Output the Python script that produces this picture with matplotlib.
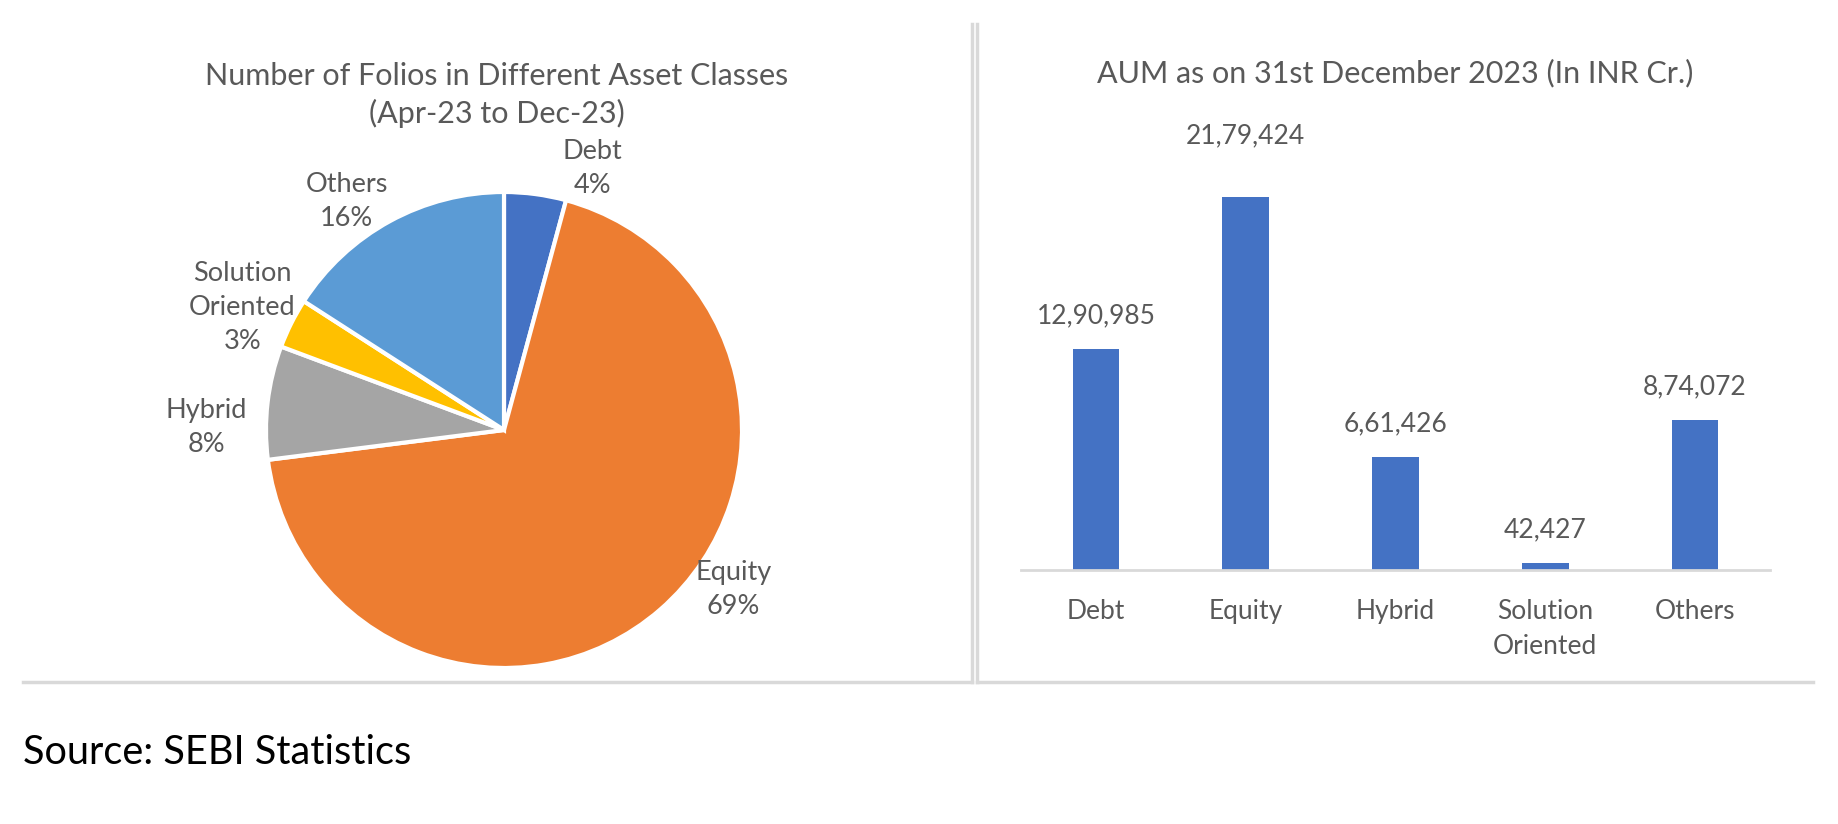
import numpy as np
import matplotlib.pyplot as plt
from matplotlib.lines import Line2D

plt.rcParams['font.family'] = ['Lato', 'DejaVu Sans']

# pie data (share of folios, %)
pie_labels = ['Debt', 'Equity', 'Hybrid', 'Solution\nOriented', 'Others']
pie_values = [4.2, 68.8, 7.7, 3.4, 15.9]
pie_colors = ['#4472C4', '#ED7D31', '#A5A5A5', '#FFC000', '#5B9BD5']

# bar data (AUM, INR Cr.)
bar_labels = ['Debt', 'Equity', 'Hybrid', 'Solution\nOriented', 'Others']
bar_values = [1290985, 2179424, 661426, 42427, 874072]

# where the pie labels sit, in units of the pie radius
label_pos = [(0.37, 1.10), (0.965, -0.67), (-1.25, 0.01), (-1.1, 0.515), (-0.66, 0.96)]

W, H = 1838, 824
GRAY = '#595959'
LINE = '#D9D9D9'


def indian(n):
    s = str(int(n))
    if len(s) <= 3:
        return s
    head, tail = s[:-3], s[-3:]
    parts = []
    while len(head) > 2:
        parts.insert(0, head[-2:])
        head = head[:-2]
    if head:
        parts.insert(0, head)
    return ','.join(parts) + ',' + tail


def px_axes(fig, left, top, width, height):
    return fig.add_axes([left / W, 1 - (top + height) / H, width / W, height / H])


fig = plt.figure(figsize=(W / 100, H / 100), dpi=100)

# ---- pie ----
R = 238.0
cx, cy = 504, 430
x0, x1, y0, y1 = -1.7, 1.7, -1.15, 1.45
ax1 = px_axes(fig, cx + x0 * R, cy - y1 * R, (x1 - x0) * R, (y1 - y0) * R)
wedges, texts = ax1.pie(pie_values, colors=pie_colors, startangle=90, counterclock=False,
                        labels=[l + '\n' + f'{v:.0f}%' for l, v in zip(pie_labels, pie_values)],
                        wedgeprops=dict(edgecolor='white', linewidth=3),
                        textprops=dict(color=GRAY, fontsize=19.5, linespacing=1.45))
for t, (lx, ly) in zip(texts, label_pos):
    t.set_position((lx, ly))
    t.set_ha('center')
    t.set_va('center')
ax1.set_xlim(x0, x1)
ax1.set_ylim(y0, y1)
ax1.set_aspect('auto')
ax1.axis('off')

fig.text(497 / W, 1 - 95 / H, 'Number of Folios in Different Asset Classes\n(Apr-23 to Dec-23)',
         ha='center', va='center', color=GRAY, fontsize=22, linespacing=1.4)

# ---- bars ----
base_y = 570
ax2 = px_axes(fig, 1021, 100, 749, base_y - 100)
x = np.arange(len(bar_values))
ax2.bar(x, bar_values, width=0.31, color='#4472C4')
ax2.set_xlim(-0.5, 4.5)
top_px = 197
ax2.set_ylim(0, max(bar_values) * (base_y - 100) / (base_y - top_px))
for s in ['top', 'right', 'left']:
    ax2.spines[s].set_visible(False)
ax2.spines['bottom'].set_color(LINE)
ax2.spines['bottom'].set_linewidth(2)
ax2.set_yticks([])
ax2.set_xticks(x)
ax2.set_xticklabels(bar_labels, color=GRAY, fontsize=19, linespacing=1.5, va='top')
ax2.tick_params(axis='x', length=0, pad=21)
label_off = [15, 35, 15, 15, 15]
for xi, v, off in zip(x, bar_values, label_off):
    ax2.annotate(indian(v), (xi, v), xytext=(0, off), textcoords='offset points',
                 ha='center', va='bottom', color=GRAY, fontsize=19)

fig.text(1395 / W, 1 - 73 / H, 'AUM as on 31st December 2023 (In INR Cr.)',
         ha='center', va='center', color=GRAY, fontsize=22)

# ---- panel borders ----
for xs, ys in [((23, 972), (682, 682)), ((972, 972), (24, 682)),
               ((977, 977), (24, 682)), ((977, 1813), (682, 682))]:
    fig.add_artist(Line2D([v / W for v in xs], [1 - v / H for v in ys], color=LINE, lw=2.5))

fig.text(23 / W, 1 - 752 / H, 'Source: SEBI Statistics', ha='left', va='center',
         color='black', fontsize=28.6)

fig.savefig('out.png', dpi=100, facecolor='white')
